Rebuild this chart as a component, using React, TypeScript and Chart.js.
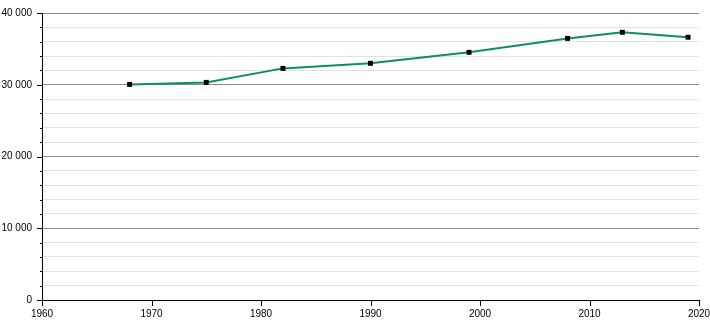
import React, { useEffect, useRef } from "react";
import { Chart, registerables } from "chart.js";

Chart.register(...registerables);

const years = [1968, 1975, 1982, 1990, 1999, 2008, 2013, 2019];
const population = [30050, 30330, 32280, 32990, 34520, 36460, 37310, 36620];
const xTicks = [1960, 1970, 1980, 1990, 2000, 2010, 2020];
const yMajorStep = 10000;
const yMinorStep = 2000;

const FONT = "'Liberation Sans', Arial, sans-serif";

const tickMarks = {
  id: "tickMarks",
  afterDraw(chart: any) {
    const ctx = chart.ctx;
    const xs = chart.scales.x;
    const ys = chart.scales.y;
    ctx.save();
    ctx.strokeStyle = "#000";
    ctx.lineWidth = 1;
    ctx.beginPath();
    ys.ticks.forEach((t: any) => {
      const py = Math.round(ys.getPixelForValue(t.value)) + 0.5;
      const len = t.value % yMajorStep === 0 ? 5 : 2;
      ctx.moveTo(ys.right - len, py);
      ctx.lineTo(ys.right, py);
    });
    xs.ticks.forEach((t: any) => {
      const px = Math.round(xs.getPixelForValue(t.value)) + 0.5;
      ctx.moveTo(px, xs.top);
      ctx.lineTo(px, xs.top + 6);
    });
    ctx.stroke();
    ctx.restore();
  },
};

const zeroPad = (s: any) => {
  s.paddingLeft = 0;
  s.paddingRight = 0;
  s.paddingTop = 0;
  s.paddingBottom = 0;
};

export default function App() {
  const ref = useRef<HTMLCanvasElement | null>(null);
  useEffect(() => {
    if (!ref.current) return;
    const chart = new Chart(ref.current, {
      type: "line",
      data: {
        datasets: [
          {
            data: years.map((y, i) => ({ x: y, y: population[i] })),
            borderColor: "#0a8f66",
            borderWidth: 2,
            backgroundColor: "#000",
            pointStyle: "rect",
            pointRadius: 3.5,
            pointBorderWidth: 0,
            pointBackgroundColor: "#000",
            tension: 0,
          },
        ],
      },
      plugins: [tickMarks],
      options: {
        animation: false,
        responsive: false,
        maintainAspectRatio: false,
        layout: { padding: { top: 13, right: 11, left: 0, bottom: 0 } },
        plugins: { legend: { display: false }, tooltip: { enabled: false } },
        scales: {
          x: {
            type: "linear",
            min: 1960,
            max: 2020,
            afterBuildTicks: (s: any) => {
              s.ticks = xTicks.map((v) => ({ value: v }));
            },
            afterFit: (s: any) => {
              s.height = 20;
              zeroPad(s);
            },
            grid: { display: false, drawTicks: false },
            border: { display: true, color: "#000", width: 1 },
            ticks: {
              padding: 8,
              maxRotation: 0,
              color: "#000",
              font: { family: FONT, size: 10 },
              callback: (v: any) => String(v),
            },
          },
          y: {
            min: 0,
            max: 40000,
            afterFit: (s: any) => {
              s.width = 42;
              zeroPad(s);
            },
            grid: {
              drawTicks: false,
              color: (c: any) =>
                c.tick && c.tick.value % yMajorStep === 0 ? "#8a8a8a" : "#e2e2e2",
            },
            border: { display: true, color: "#000", width: 1 },
            ticks: {
              stepSize: yMinorStep,
              autoSkip: false,
              padding: 10,
              color: "#000",
              font: { family: FONT, size: 10 },
              callback: (v: any) =>
                Number(v) % yMajorStep === 0
                  ? String(v).replace(/\B(?=(\d{3})+(?!\d))/g, " ")
                  : "",
            },
          },
        },
      },
    });
    return () => chart.destroy();
  }, []);
  return (
    <div style={{ position: "fixed", left: 0, top: 0, width: 710, height: 320, background: "#fff" }}>
      <canvas ref={ref} width={710} height={320} style={{ width: 710, height: 320 }} />
    </div>
  );
}
